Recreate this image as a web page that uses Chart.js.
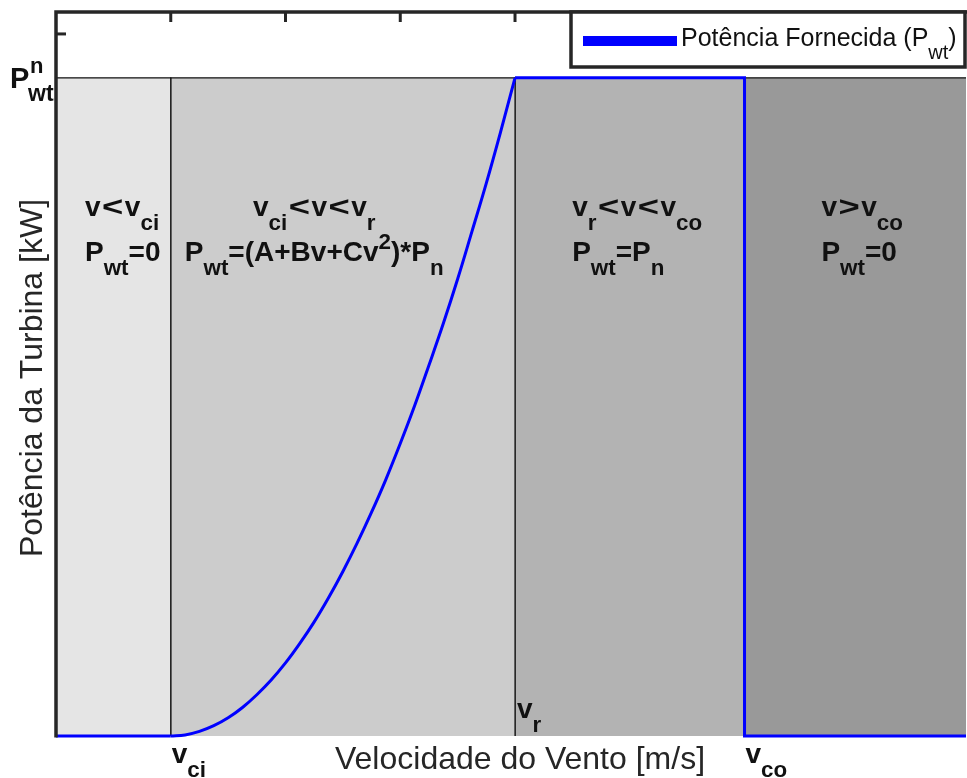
<!DOCTYPE html>
<html>
<head>
<meta charset="utf-8">
<script src="https://cdn.jsdelivr.net/npm/chart.js@4/dist/chart.umd.min.js"></script>
<style>
  html, body { margin: 0; padding: 0; background: #ffffff; }
  #wrap { width: 967px; height: 778px; position: relative; }
</style>
</head>
<body>
<div id="wrap"><canvas id="c" width="967" height="778"></canvas></div>
<script>
// ---- data ----
const vCutIn = 1;      // v_ci
const vRated = 4;      // v_r
const vCutOut = 6;     // v_co
const vEnd = 7.93;     // right end of axis
const ratedPower = 3;  // P^n_wt
const powerMax = 3.3;  // top of axis

const regionEdges = [0, vCutIn, vRated, vCutOut, 8];

// power below cut-in
const zeroSpeed = [0, 1];
const zeroPower = [0, 0];
// rising part of the power curve
const curveSpeed = [1, 1.125, 1.25, 1.375, 1.5, 1.625, 1.75, 1.875, 2, 2.125, 2.25, 2.375, 2.5,
                    2.625, 2.75, 2.875, 3, 3.125, 3.25, 3.375, 3.5, 3.625, 3.75, 3.875, 4];
const curvePower = [0, 0.005, 0.021, 0.047, 0.083, 0.13, 0.188, 0.255, 0.333, 0.422, 0.52, 0.63, 0.75,
                    0.88, 1.02, 1.17, 1.333, 1.505, 1.69, 1.88, 2.083, 2.30, 2.52, 2.755, 3];
// rated / cut-out part
const flatSpeed = [4, 6, 6, 8];
const flatPower = [3, 3, 0, 0];

const xTickValues = [1, 2, 3, 4, 5, 6, 7];
const yTickValues = [0.4, 0.8, 1.2, 1.6, 2.0, 2.4, 2.8, 3.2];

const xAxisTitle = 'Velocidade do Vento [m/s]';
const yAxisTitle = 'Potência da Turbina [kW]';
const legendLabel = ['Potência Fornecida (P', 'wt', ')'];

// ---- styles ----
const regionColors = ['#e5e5e5', '#cccccc', '#b3b3b3', '#999999'];
const BLUE = '#0000ff';
const DARK = '#262626';
const FONT = '"Liberation Sans", Arial, Helvetica, sans-serif';

function pts(xs, ys) { return xs.map((x, i) => ({ x: x, y: ys[i] })); }

const datasets = [];
datasets.push({
  data: pts(curveSpeed, curvePower),
  borderColor: BLUE, borderWidth: 3, pointRadius: 0, fill: false,
  tension: 0.4, clip: false, order: 0
});
datasets.push({
  data: pts(zeroSpeed, zeroPower),
  borderColor: BLUE, borderWidth: 3, pointRadius: 0, fill: false,
  tension: 0, clip: false, order: 0
});
datasets.push({
  data: pts(flatSpeed, flatPower),
  borderColor: BLUE, borderWidth: 3, pointRadius: 0, fill: false,
  tension: 0, clip: { left: 5, top: 5, right: 0, bottom: 5 }, order: 1
});
for (let i = 0; i < regionEdges.length - 1; i++) {
  const a = regionEdges[i], b = regionEdges[i + 1];
  datasets.push({
    data: [{ x: a, y: 0 }, { x: a, y: ratedPower }, { x: b, y: ratedPower }, { x: b, y: 0 }],
    borderColor: '#111111', borderWidth: 1.2, backgroundColor: regionColors[i],
    pointRadius: 0, fill: 'origin', tension: 0, order: 10 + i
  });
}

// rich text: segs = [[text, kind]] kind: '' main, 'b' subscript, 'p' superscript
function drawRich(ctx, x, y, segs, size, weight, align, subScale) {
  const sub = size * (subScale || 0.8);
  const REL_PAD = 1.5, REL_SCALE = 1.3;
  const pieces = [];
  segs.forEach(s => {
    const parts = s[1] ? [s[0]] : s[0].split(/([<>])/).filter(p => p.length);
    parts.forEach(p => pieces.push({ t: p, k: s[1], rel: !s[1] && (p === '<' || p === '>') }));
  });
  let total = 0;
  pieces.forEach(p => {
    ctx.font = weight + ' ' + (p.k ? sub : size) + 'px ' + FONT;
    const w = ctx.measureText(p.t).width;
    p.w = p.rel ? w * REL_SCALE + 2 * REL_PAD : w;
    total += p.w;
  });
  let cx = align === 'center' ? x - total / 2 : (align === 'right' ? x - total : x);
  ctx.textAlign = 'left';
  ctx.textBaseline = 'alphabetic';
  pieces.forEach(p => {
    ctx.font = weight + ' ' + (p.k ? sub : size) + 'px ' + FONT;
    let dy = 0;
    if (p.k === 'b') dy = size * 0.5;
    if (p.k === 'p') dy = -size * 0.42;
    if (p.rel) {
      ctx.save();
      ctx.translate(cx + REL_PAD, y);
      ctx.scale(REL_SCALE, 1);
      ctx.fillText(p.t, 0, 0);
      ctx.restore();
    } else {
      ctx.fillText(p.t, cx, y + dy);
    }
    cx += p.w;
  });
  return total;
}

const decor = {
  id: 'decor',
  beforeDatasetsDraw(chart) {
    const { ctx, chartArea: ca, scales: { x, y } } = chart;
    ctx.save();
    ctx.strokeStyle = DARK;
    ctx.lineWidth = 3;
    xTickValues.forEach(v => {
      const px = x.getPixelForValue(v);
      ctx.beginPath(); ctx.moveTo(px, ca.top); ctx.lineTo(px, ca.top + 10); ctx.stroke();
    });
    yTickValues.forEach(v => {
      const py = y.getPixelForValue(v);
      ctx.beginPath(); ctx.moveTo(ca.left, py); ctx.lineTo(ca.left + 10, py); ctx.stroke();
    });
    ctx.restore();
  },
  afterDatasetsDraw(chart) {
    const { ctx, chartArea: ca, scales: { x, y } } = chart;
    ctx.save();
    // frame (left, top)
    ctx.strokeStyle = DARK;
    ctx.lineWidth = 3.5;
    ctx.beginPath();
    ctx.moveTo(ca.left, ca.bottom + 1.5);
    ctx.lineTo(ca.left, ca.top);
    ctx.lineTo(chart.width, ca.top);
    ctx.stroke();

    // legend
    const lx = 571, ly = ca.top, lw = 394, lh = 55;
    ctx.fillStyle = '#ffffff';
    ctx.fillRect(lx, ly, lw, lh);
    ctx.lineWidth = 3.5;
    ctx.strokeStyle = DARK;
    ctx.strokeRect(lx, ly, lw, lh);
    ctx.strokeStyle = BLUE;
    ctx.lineWidth = 10;
    ctx.beginPath(); ctx.moveTo(583, ly + 29); ctx.lineTo(677, ly + 29); ctx.stroke();
    ctx.fillStyle = '#111111';
    drawRich(ctx, 681, ly + 34, [[legendLabel[0], ''], [legendLabel[1], 'b'], [legendLabel[2], '']], 25, 'normal', 'left');

    // region annotations
    ctx.fillStyle = '#111111';
    const l1 = y.getPixelForValue(2.372), l2 = y.getPixelForValue(2.167);
    const S = 28, W = 'bold';
    drawRich(ctx, x.getPixelForValue(0.253), l1, [['v<v', ''], ['ci', 'b']], S, W, 'left');
    drawRich(ctx, x.getPixelForValue(0.253), l2, [['P', ''], ['wt', 'b'], ['=0', '']], S, W, 'left');
    drawRich(ctx, x.getPixelForValue(2.25), l1, [['v', ''], ['ci', 'b'], ['<v<v', ''], ['r', 'b']], S, W, 'center');
    drawRich(ctx, x.getPixelForValue(2.25), l2, [['P', ''], ['wt', 'b'], ['=(A+Bv+Cv', ''], ['2', 'p'], [')*P', ''], ['n', 'b']], S, W, 'center');
    drawRich(ctx, x.getPixelForValue(4.498), l1, [['v', ''], ['r', 'b'], ['<v<v', ''], ['co', 'b']], S, W, 'left');
    drawRich(ctx, x.getPixelForValue(4.498), l2, [['P', ''], ['wt', 'b'], ['=P', ''], ['n', 'b']], S, W, 'left');
    drawRich(ctx, x.getPixelForValue(6.67), l1, [['v>v', ''], ['co', 'b']], S, W, 'left');
    drawRich(ctx, x.getPixelForValue(6.67), l2, [['P', ''], ['wt', 'b'], ['=0', '']], S, W, 'left');

    // special speed labels
    drawRich(ctx, x.getPixelForValue(vRated) + 2, ca.bottom - 18, [['v', ''], ['r', 'b']], S, W, 'left');
    drawRich(ctx, x.getPixelForValue(vCutIn) + 1, ca.bottom + 27, [['v', ''], ['ci', 'b']], S, W, 'left');
    drawRich(ctx, x.getPixelForValue(vCutOut) + 1, ca.bottom + 27, [['v', ''], ['co', 'b']], S, W, 'left');

    // P^n_wt label
    const pn = y.getPixelForValue(ratedPower);
    ctx.textAlign = 'left';
    ctx.font = 'bold 29px ' + FONT;
    ctx.fillText('P', 10, pn + 10);
    ctx.font = 'bold 22px ' + FONT;
    ctx.fillText('n', 30, pn - 5);
    ctx.font = 'bold 23px ' + FONT;
    ctx.fillText('wt', 28, pn + 23);

    // axis titles
    ctx.fillStyle = DARK;
    ctx.font = '32px ' + FONT;
    ctx.textAlign = 'center';
    ctx.fillText(xAxisTitle, 520, ca.bottom + 33);
    ctx.translate(42, 378);
    ctx.rotate(-Math.PI / 2);
    ctx.fillText(yAxisTitle, 0, 0);
    ctx.restore();
  }
};

new Chart(document.getElementById('c'), {
  type: 'line',
  data: { datasets: datasets },
  options: {
    responsive: false,
    animation: false,
    layout: { padding: { left: 56, right: 1, top: 12, bottom: 42 } },
    plugins: { legend: { display: false }, tooltip: { enabled: false } },
    scales: {
      x: { type: 'linear', min: 0, max: vEnd, display: false },
      y: { type: 'linear', min: 0, max: powerMax, display: false }
    }
  },
  plugins: [decor]
});
</script>
</body>
</html>
